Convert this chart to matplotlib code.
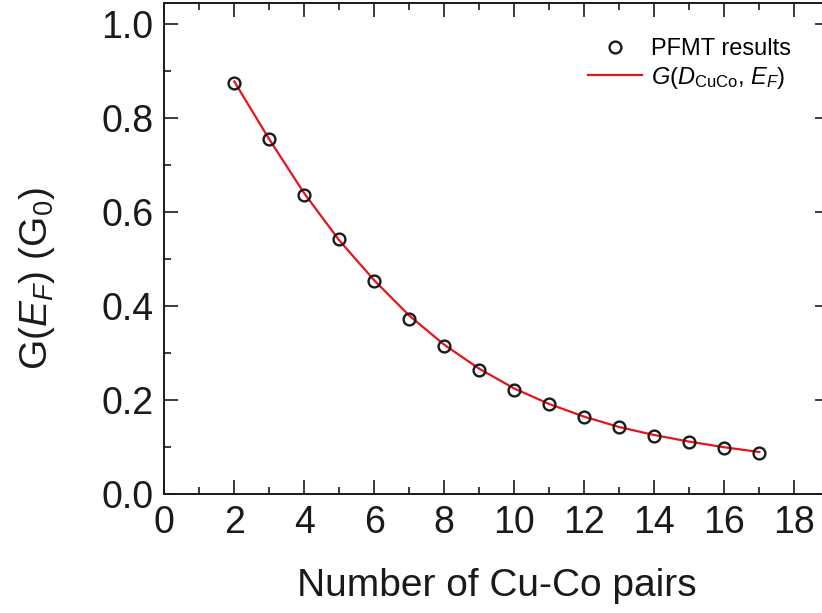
import matplotlib
matplotlib.use("Agg")
import matplotlib.pyplot as plt
from matplotlib.ticker import MultipleLocator

plt.rcParams['font.family'] = ['Liberation Sans', 'DejaVu Sans']
plt.rcParams['mathtext.fontset'] = 'custom'
plt.rcParams['mathtext.rm'] = 'Liberation Sans'
plt.rcParams['mathtext.it'] = 'Liberation Sans:italic'
plt.rcParams['mathtext.bf'] = 'Liberation Sans:bold'

# Data
n_pairs = [2, 3, 4, 5, 6, 7, 8, 9, 10, 11, 12, 13, 14, 15, 16, 17]
pfmt_g = [0.875, 0.756, 0.637, 0.543, 0.454, 0.373, 0.315, 0.265, 0.222,
          0.192, 0.165, 0.144, 0.125, 0.111, 0.098, 0.087]
fit_g = [0.878, 0.755, 0.640, 0.540, 0.455, 0.380, 0.318, 0.267, 0.225,
         0.192, 0.165, 0.143, 0.126, 0.112, 0.100, 0.090]

x_ticks = [0, 2, 4, 6, 8, 10, 12, 14, 16, 18]
y_ticks = [0.0, 0.2, 0.4, 0.6, 0.8, 1.0]

fig = plt.figure(figsize=(8.22, 6.13), dpi=100)
ax = fig.add_axes([164.3/822, (613-494.3)/613, 665/822, 491.3/613])

ax.plot(n_pairs, fit_g, color='#e8141c', lw=1.6, zorder=2,
        label=r'$G$($D_{\mathrm{CuCo}}$, $E_F$)')
ax.plot(n_pairs, pfmt_g, linestyle='none', marker='o', ms=8.5, mew=1.7,
        mfc='none', mec='#1a1a1a', zorder=3, label='PFMT results')

ax.set_xlim(0, 19)
ax.set_ylim(0, 1.045)
ax.set_xticks(x_ticks)
ax.set_yticks(y_ticks)
ax.set_yticklabels([f'{v:.1f}' for v in y_ticks])
ax.xaxis.set_minor_locator(MultipleLocator(1))
ax.yaxis.set_minor_locator(MultipleLocator(0.1))
ax.tick_params(which='both', direction='in', top=True, right=True,
               width=1.2, colors='#1a1a1a', labelcolor='#1a1a1a')
ax.tick_params(which='major', length=10, labelsize=27, pad=8)
ax.tick_params(which='minor', length=5)
for s in ax.spines.values():
    s.set_linewidth(1.4)
    s.set_color('#1a1a1a')

ax.set_xlabel('Number of Cu-Co pairs', fontsize=28, color='#1a1a1a', labelpad=19)
ax.set_ylabel(r'G($E_F$) (G$_0$)', fontsize=28, color='#1a1a1a')
ax.yaxis.set_label_coords(-0.162, 0.44)

handles, labels = ax.get_legend_handles_labels()
leg = fig.legend(handles[::-1], labels[::-1], loc='upper left',
                 bbox_to_anchor=(588/822, 1 - 38/613), frameon=False,
                 fontsize=17, handlelength=2.3, handletextpad=0.35,
                 labelspacing=0.2, borderpad=0, borderaxespad=0)

fig.savefig('out.png', dpi=100)
